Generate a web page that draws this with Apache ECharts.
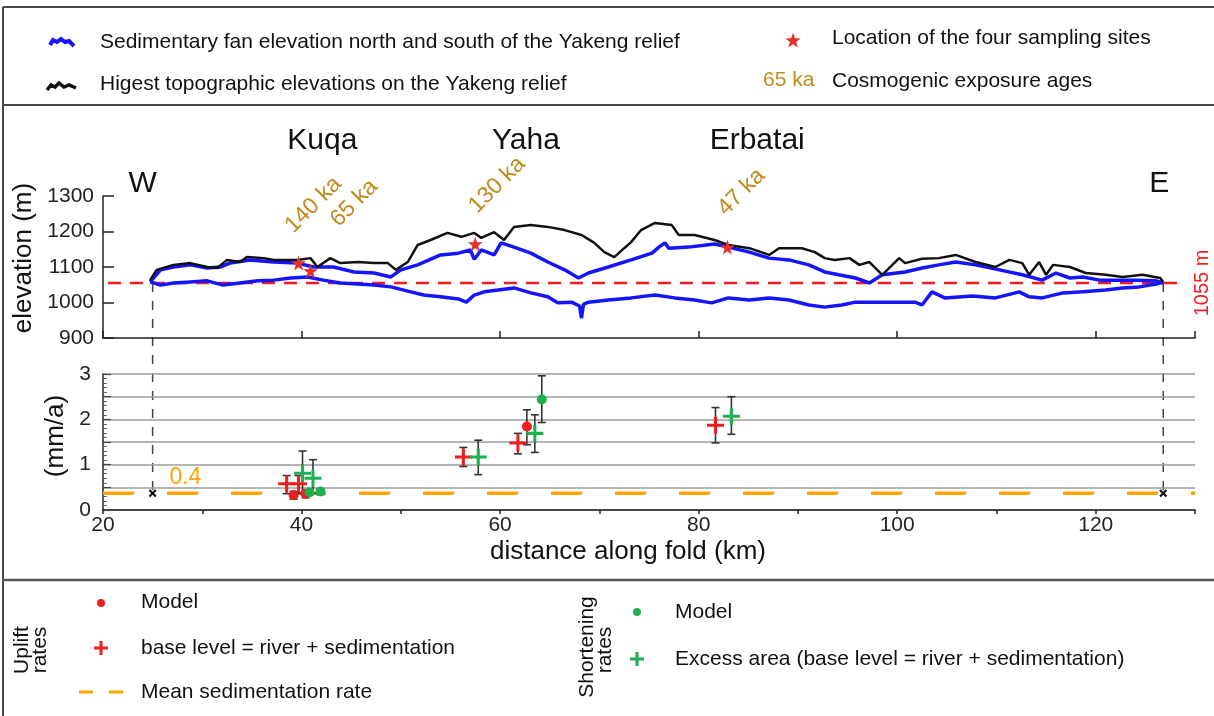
<!DOCTYPE html>
<html><head><meta charset="utf-8">
<script src="https://cdn.jsdelivr.net/npm/echarts@6/dist/echarts.min.js"></script>
<style>html,body{margin:0;padding:0;background:#fff}#c{width:1214px;height:716px}</style>
</head><body><div id="c"></div>
<script>
// ---------- DATA ----------
const topoHigh = [[24.75,1063],[25.4,1092],[27.1,1106],[28.8,1111],[30.5,1100],[31.5,1097],[32.5,1120],[33.8,1114],[34.5,1128],[36.2,1125],[37.2,1120],[39.6,1120],[40.9,1125],[41.6,1100],[42.9,1125],[43.9,1111],[45.7,1114],[47.3,1111],[48.7,1111],[49.5,1092],[50.7,1114],[51.7,1162],[53.0,1176],[54.7,1196],[56.1,1185],[57.4,1196],[58.1,1182],[59.4,1198],[60.4,1176],[61.4,1213],[63.1,1218],[64.8,1213],[66.5,1204],[68.2,1190],[69.5,1168],[70.5,1142],[71.5,1128],[72.5,1153],[73.2,1170],[74.2,1204],[75.6,1224],[77.3,1218],[78.0,1190],[79.6,1190],[81.6,1176],[83.0,1162],[85.1,1153],[87.1,1134],[88.1,1153],[90.4,1153],[91.7,1142],[92.7,1125],[93.7,1120],[95.2,1125],[96.2,1106],[97.2,1114],[98.5,1078],[100.2,1125],[100.8,1111],[102.5,1123],[104.2,1125],[105.9,1134],[107.9,1114],[109.9,1100],[111.3,1120],[112.6,1111],[113.3,1078],[114.3,1114],[115.0,1078],[115.7,1106],[117.4,1100],[119.0,1083],[121.0,1078],[122.7,1072],[124.7,1078],[126.5,1069],[126.8,1058]];
const fanNorth = [[24.75,1058],[25.8,1092],[27.1,1100],[28.8,1106],[30.5,1097],[31.8,1100],[32.8,1111],[34.8,1120],[37.2,1114],[39.6,1111],[41.2,1100],[43.2,1100],[45.3,1086],[47.3,1083],[49.0,1072],[50.0,1092],[51.7,1106],[54.0,1134],[55.8,1139],[57.0,1148],[57.4,1122],[58.1,1148],[59.4,1134],[60.1,1168],[61.4,1156],[63.1,1139],[64.8,1114],[66.5,1092],[67.9,1069],[68.9,1083],[70.9,1100],[73.2,1120],[75.3,1139],[76.0,1156],[76.6,1168],[77.0,1153],[79.0,1156],[81.6,1165],[83.0,1156],[85.1,1142],[87.1,1125],[89.1,1120],[91.1,1106],[92.7,1086],[94.1,1078],[95.8,1069],[97.2,1055],[98.5,1078],[100.8,1086],[102.5,1097],[104.2,1106],[105.9,1114],[107.9,1106],[110.3,1092],[112.6,1078],[114.6,1063],[116.0,1083],[117.4,1069],[118.7,1072],[120.4,1063],[122.0,1063],[124.0,1063],[126.1,1061],[126.8,1055]];
const fanSouth = [[24.75,1058],[25.8,1049],[27.1,1055],[28.8,1058],[30.5,1061],[32.1,1049],[33.8,1055],[35.6,1061],[37.2,1063],[38.9,1069],[40.6,1072],[42.2,1063],[43.9,1055],[45.7,1052],[47.3,1049],[49.0,1044],[50.7,1032],[52.3,1021],[54.0,1016],[55.8,1010],[56.6,1001],[57.4,1021],[58.4,1030],[59.8,1035],[61.4,1041],[63.1,1027],[64.8,1016],[65.8,999],[67.2,1001],[68.0,990],[68.2,956],[68.4,995],[68.9,1001],[70.9,1007],[73.2,1013],[75.6,1021],[77.6,1013],[79.6,1007],[81.3,999],[83.0,1013],[85.1,1007],[87.1,1013],[89.1,1007],[91.1,993],[92.7,987],[94.4,993],[95.8,1001],[99.2,1001],[101.8,1001],[102.5,993],[103.5,1030],[104.8,1013],[107.6,1018],[109.9,1013],[112.3,1030],[113.3,1016],[114.6,1013],[116.7,1027],[118.7,1030],[121.0,1035],[122.7,1041],[124.4,1044],[126.1,1052],[126.8,1058]];
const samplingSites = [[39.7,1111],[40.9,1089],[57.5,1165],[82.9,1156]];
const ageLabels = ['140 ka','65 ka','130 ka','47 ka'];
const agePositions = [[41.2,1275],[45.3,1280],[59.7,1331],[84.3,1311]];
const siteNames = ['Kuqa','Yaha','Erbatai'];
const sitePositions = [[42.1,1455],[62.6,1455],[85.9,1455]];
const baseLevel = 1055;
const baseLevelExtent = [20.5, 129];
const foldEnds = [25, 126.8];
const meanSedRate = 0.37;
const meanSedLabel = '0.4';
// uplift rates
const upliftModelX = [39.2, 40.4, 62.7];
const upliftModelY = [0.33, 0.36, 1.84];
const upliftModelLo = [0.24, 0.27, 1.44];
const upliftModelHi = [0.41, 0.42, 2.21];
const upliftBaseX = [38.5, 39.7, 56.3, 61.8, 81.7];
const upliftBaseY = [0.58, 0.58, 1.17, 1.48, 1.87];
const upliftBaseLo = [0.36, 0.36, 0.96, 1.24, 1.48];
const upliftBaseHi = [0.76, 0.76, 1.38, 1.69, 2.26];
// shortening rates
const shortModelX = [40.8, 41.9, 64.2];
const shortModelY = [0.39, 0.41, 2.44];
const shortModelLo = [0.33, 0.34, 1.93];
const shortModelHi = [0.44, 0.46, 2.96];
const shortExcessX = [40.1, 41.15, 57.8, 63.5, 83.3];
const shortExcessY = [0.81, 0.70, 1.17, 1.69, 2.07];
const shortExcessLo = [0.37, 0.37, 0.78, 1.27, 1.67];
const shortExcessHi = [1.30, 1.11, 1.54, 2.10, 2.50];

// ---------- STYLE ----------
const FONT = "'Liberation Sans', Arial, sans-serif";
const BLUE = '#1414FF', RED = '#F01E1E', GREEN = '#1FAF50', ORANGE = '#FFA500', GOLD = '#C08A1C';
const STAR = 'path://M50,0 L61,35 L98,35 L68,57 L79,91 L50,70 L21,91 L32,57 L2,35 L39,35 Z';
const PLUS = 'path://M8.2,0H11.8V8.2H20V11.8H11.8V20H8.2V11.8H0V8.2H8.2Z';
const XMARK = 'path://M0,2L2,0L10,8L8,10Z M8,0L10,2L2,10L0,8Z';

const zip = (xs, ys) => xs.map((x, i) => [x, ys[i]]);
const errs = (xs, lo, hi) => xs.map((x, i) => [x, lo[i], hi[i]]);

function errSeries(data) {
  return {
    type: 'custom', xAxisIndex: 1, yAxisIndex: 1, z: 2, data, silent: true,
    renderItem: (p, api) => {
      const a = api.coord([api.value(0), api.value(1)]);
      const b = api.coord([api.value(0), api.value(2)]);
      const w = 4, st = { stroke: '#333', lineWidth: 1.6 };
      return { type: 'group', children: [
        { type: 'line', shape: { x1: a[0], y1: a[1], x2: b[0], y2: b[1] }, style: st },
        { type: 'line', shape: { x1: a[0]-w, y1: a[1], x2: a[0]+w, y2: a[1] }, style: st },
        { type: 'line', shape: { x1: b[0]-w, y1: b[1], x2: b[0]+w, y2: b[1] }, style: st }
      ]};
    }
  };
}

const chart = echarts.init(document.getElementById('c'));
const axisLineStyle = { color: '#222', width: 1.5 };

const option = {
  animation: false,
  backgroundColor: '#fff',
  textStyle: { fontFamily: FONT },
  grid: [
    { left: 103, right: 19, top: 196, height: 142 },
    { left: 103, right: 19, top: 374, height: 136 }
  ],
  xAxis: [
    { gridIndex: 0, type: 'value', min: 20, max: 130, interval: 20,
      axisLine: { lineStyle: axisLineStyle }, axisTick: { inside: true, length: 7, lineStyle: { color: '#222', width: 1.5 } },
      axisLabel: { show: false }, splitLine: { show: false } },
    { gridIndex: 1, type: 'value', min: 20, max: 130, interval: 10,
      axisLine: { lineStyle: axisLineStyle }, axisTick: { length: 4, lineStyle: { color: '#222', width: 1.5 } },
      axisLabel: { fontSize: 21, color: '#222', margin: 5, fontFamily: FONT,
        formatter: v => (v % 20 === 0 && v <= 120) ? String(v) : '' },
      splitLine: { show: false },
      name: 'distance along fold (km)', nameLocation: 'middle', nameGap: 29,
      nameTextStyle: { fontSize: 26, color: '#111', fontFamily: FONT, padding: [0, 42, 0, 0] } }
  ],
  yAxis: [
    { gridIndex: 0, type: 'value', min: 900, max: 1300, interval: 100,
      axisLine: { show: true, lineStyle: axisLineStyle }, axisTick: { show: true, inside: true, length: 11, lineStyle: { color: '#222', width: 1.5 } },
      axisLabel: { fontSize: 21, color: '#222', margin: 9, fontFamily: FONT, formatter: v => String(v) }, splitLine: { show: false },
      name: 'elevation (m)', nameLocation: 'middle', nameGap: 64,
      nameTextStyle: { fontSize: 26, color: '#111', fontFamily: FONT, padding: [0, 0, 0, 18] } },
    { gridIndex: 1, type: 'value', min: 0, max: 3, interval: 0.5,
      axisLine: { show: true, lineStyle: axisLineStyle },
      axisTick: { show: true, inside: true, length: 8, lineStyle: { color: '#444', width: 1.2 } },
      minorTick: { show: true, splitNumber: 5, length: 4, lineStyle: { color: '#666', width: 1 } },
      axisLabel: { fontSize: 21, color: '#222', margin: 12, fontFamily: FONT,
        formatter: v => Number.isInteger(v) ? String(v) : '' },
      splitLine: { show: true, lineStyle: { color: '#9c9c9c', width: 1.5 } },
      name: '(mm/a)', nameLocation: 'middle', nameGap: 33,
      nameTextStyle: { fontSize: 26, color: '#111', fontFamily: FONT, padding: [0, 0, 0, 12] } }
  ],
  series: [
    { name: 'baseLevel', type: 'line', xAxisIndex: 0, yAxisIndex: 0, symbol: 'none', z: 1,
      data: baseLevelExtent.map(x => [x, baseLevel]),
      lineStyle: { color: RED, width: 2.5, type: [13, 9] } },
    { name: 'fanSouth', type: 'line', xAxisIndex: 0, yAxisIndex: 0, symbol: 'none', z: 2, data: fanSouth,
      lineStyle: { color: BLUE, width: 3.5 } },
    { name: 'fanNorth', type: 'line', xAxisIndex: 0, yAxisIndex: 0, symbol: 'none', z: 2, data: fanNorth,
      lineStyle: { color: BLUE, width: 3.5 } },
    { name: 'topo', type: 'line', xAxisIndex: 0, yAxisIndex: 0, symbol: 'none', z: 3, data: topoHigh,
      lineStyle: { color: '#111', width: 2.5 } },
    { name: 'sites', type: 'scatter', xAxisIndex: 0, yAxisIndex: 0, z: 5, data: samplingSites,
      symbol: STAR, symbolSize: 15, itemStyle: { color: '#E5302A', opacity: 1 } },
    { name: 'meanSed', type: 'line', xAxisIndex: 1, yAxisIndex: 1, symbol: 'none', z: 1,
      data: [[20, meanSedRate], [130, meanSedRate]],
      lineStyle: { color: ORANGE, width: 3.5, type: [31, 33] } },
    errSeries(errs(upliftModelX, upliftModelLo, upliftModelHi)),
    errSeries(errs(upliftBaseX, upliftBaseLo, upliftBaseHi)),
    errSeries(errs(shortModelX, shortModelLo, shortModelHi)),
    errSeries(errs(shortExcessX, shortExcessLo, shortExcessHi)),
    { name: 'upliftBase', type: 'scatter', xAxisIndex: 1, yAxisIndex: 1, z: 4, data: zip(upliftBaseX, upliftBaseY),
      symbol: PLUS, symbolSize: 17, itemStyle: { color: RED, opacity: 1 } },
    { name: 'shortExcess', type: 'scatter', xAxisIndex: 1, yAxisIndex: 1, z: 4, data: zip(shortExcessX, shortExcessY),
      symbol: PLUS, symbolSize: 17, itemStyle: { color: GREEN, opacity: 1 } },
    { name: 'upliftModel', type: 'scatter', xAxisIndex: 1, yAxisIndex: 1, z: 5, data: zip(upliftModelX, upliftModelY),
      symbol: 'circle', symbolSize: 10, itemStyle: { color: RED, opacity: 1 } },
    { name: 'shortModel', type: 'scatter', xAxisIndex: 1, yAxisIndex: 1, z: 5, data: zip(shortModelX, shortModelY),
      symbol: 'circle', symbolSize: 10, itemStyle: { color: GREEN, opacity: 1 } },
    { name: 'foldEnds', type: 'scatter', xAxisIndex: 1, yAxisIndex: 1, z: 6, data: foldEnds.map(x => [x, meanSedRate]),
      symbol: XMARK, symbolSize: 8, itemStyle: { color: '#111', opacity: 1 } }
  ]
};
chart.setOption(option);

// ---------- ANNOTATIONS (positioned through the axes) ----------
const g = [];
const px0 = v => chart.convertToPixel({ gridIndex: 0 }, v);
const px1 = v => chart.convertToPixel({ gridIndex: 1 }, v);

foldEnds.forEach(x => {
  const a = px0([x, baseLevel]), b = px1([x, meanSedRate]);
  g.push({ type: 'line', z: -1, silent: true, shape: { x1: a[0], y1: a[1], x2: b[0], y2: b[1] },
    style: { stroke: '#444', lineWidth: 1.5, lineDash: [9, 9] } });
});
ageLabels.forEach((t, i) => {
  const p = px0(agePositions[i]);
  g.push({ type: 'text', x: p[0], y: p[1], rotation: Math.PI / 4, silent: true,
    style: { text: t, fill: GOLD, font: '23px ' + FONT, align: 'center', verticalAlign: 'middle' } });
});
siteNames.forEach((t, i) => {
  const p = px0(sitePositions[i]);
  g.push({ type: 'text', x: p[0], y: p[1], silent: true,
    style: { text: t, fill: '#111', font: '30px ' + FONT, align: 'center', verticalAlign: 'middle' } });
});
[['W', [24.0, 1334]], ['E', [126.4, 1334]]].forEach(([t, v]) => {
  const p = px0(v);
  g.push({ type: 'text', x: p[0], y: p[1], silent: true,
    style: { text: t, fill: '#111', font: '30px ' + FONT, align: 'center', verticalAlign: 'middle' } });
});
{
  const p = px0([130.8, baseLevel]);
  g.push({ type: 'text', x: p[0], y: p[1], rotation: Math.PI / 2, silent: true,
    style: { text: baseLevel + ' m', fill: RED, font: '20px ' + FONT, align: 'center', verticalAlign: 'middle' } });
  const q = px1([28.3, 0.71]);
  g.push({ type: 'text', x: q[0], y: q[1], silent: true,
    style: { text: meanSedLabel, fill: ORANGE, font: '23px ' + FONT, align: 'center', verticalAlign: 'middle' } });
}

// frame
const frame = { stroke: '#4a4a4a', lineWidth: 2 };
g.push({ type: 'line', silent: true, shape: { x1: 3, y1: 7, x2: 1214, y2: 7 }, style: frame });
g.push({ type: 'line', silent: true, shape: { x1: 3, y1: 7, x2: 3, y2: 716 }, style: frame });
g.push({ type: 'line', silent: true, shape: { x1: 3, y1: 105, x2: 1214, y2: 105 }, style: frame });
g.push({ type: 'line', silent: true, shape: { x1: 3, y1: 580, x2: 1214, y2: 580 }, style: { stroke: '#555', lineWidth: 2.5 } });

// top legend
function starPts(cx, cy, R, r) {
  const pts = [];
  for (let i = 0; i < 10; i++) {
    const ang = -Math.PI / 2 + i * Math.PI / 5, rad = i % 2 ? r : R;
    pts.push([cx + rad * Math.cos(ang), cy + rad * Math.sin(ang)]);
  }
  return pts;
}
g.push({ type: 'polyline', silent: true, shape: { points: [[50,45],[53,40],[57,42],[61,39],[65,42],[69,41],[74,46]] },
  style: { stroke: BLUE, lineWidth: 4, fill: null } });
g.push({ type: 'polyline', silent: true, shape: { points: [[47,90],[51,85],[55,87],[59,83],[64,87],[69,85],[76,88]] },
  style: { stroke: '#111', lineWidth: 3.5, fill: null } });
const LEG = 21;
g.push({ type: 'text', x: 100, y: 42, silent: true, style: { text: 'Sedimentary fan elevation north and south of the Yakeng relief', fill: '#111', font: LEG + 'px ' + FONT, verticalAlign: 'middle' } });
g.push({ type: 'text', x: 100, y: 84, silent: true, style: { text: 'Higest topographic elevations on the Yakeng relief', fill: '#111', font: LEG + 'px ' + FONT, verticalAlign: 'middle' } });
g.push({ type: 'polygon', silent: true, shape: { points: starPts(793, 41, 8, 3.3) }, style: { fill: '#E5302A' } });
g.push({ type: 'text', x: 832, y: 38, silent: true, style: { text: 'Location of the four sampling sites', fill: '#111', font: LEG + 'px ' + FONT, verticalAlign: 'middle' } });
g.push({ type: 'text', x: 763, y: 80, silent: true, style: { text: '65 ka', fill: GOLD, font: LEG + 'px ' + FONT, verticalAlign: 'middle' } });
g.push({ type: 'text', x: 832, y: 81, silent: true, style: { text: 'Cosmogenic exposure ages', fill: '#111', font: LEG + 'px ' + FONT, verticalAlign: 'middle' } });

// bottom legend
const plus = (cx, cy, col) => [
  { type: 'line', silent: true, shape: { x1: cx - 7, y1: cy, x2: cx + 7, y2: cy }, style: { stroke: col, lineWidth: 3 } },
  { type: 'line', silent: true, shape: { x1: cx, y1: cy - 7, x2: cx, y2: cy + 7 }, style: { stroke: col, lineWidth: 3 } }
];
g.push({ type: 'text', x: 22, y: 650, rotation: Math.PI / 2, silent: true, style: { text: 'Uplift', fill: '#111', font: '21px ' + FONT, align: 'center', verticalAlign: 'middle' } });
g.push({ type: 'text', x: 40, y: 650, rotation: Math.PI / 2, silent: true, style: { text: 'rates', fill: '#111', font: '21px ' + FONT, align: 'center', verticalAlign: 'middle' } });
g.push({ type: 'circle', silent: true, shape: { cx: 101, cy: 603, r: 4 }, style: { fill: RED } });
g.push(...plus(101, 648, RED));
g.push({ type: 'line', silent: true, shape: { x1: 79, y1: 692, x2: 93, y2: 692 }, style: { stroke: ORANGE, lineWidth: 3 } });
g.push({ type: 'line', silent: true, shape: { x1: 109, y1: 692, x2: 123, y2: 692 }, style: { stroke: ORANGE, lineWidth: 3 } });
g.push({ type: 'text', x: 141, y: 602, silent: true, style: { text: 'Model', fill: '#111', font: LEG + 'px ' + FONT, verticalAlign: 'middle' } });
g.push({ type: 'text', x: 141, y: 648, silent: true, style: { text: 'base level = river + sedimentation', fill: '#111', font: LEG + 'px ' + FONT, verticalAlign: 'middle' } });
g.push({ type: 'text', x: 141, y: 692, silent: true, style: { text: 'Mean sedimentation rate', fill: '#111', font: LEG + 'px ' + FONT, verticalAlign: 'middle' } });
g.push({ type: 'text', x: 587, y: 647, rotation: Math.PI / 2, silent: true, style: { text: 'Shortening', fill: '#111', font: '21px ' + FONT, align: 'center', verticalAlign: 'middle' } });
g.push({ type: 'text', x: 605, y: 650, rotation: Math.PI / 2, silent: true, style: { text: 'rates', fill: '#111', font: '21px ' + FONT, align: 'center', verticalAlign: 'middle' } });
g.push({ type: 'circle', silent: true, shape: { cx: 637, cy: 612, r: 4 }, style: { fill: GREEN } });
g.push(...plus(637, 659, GREEN));
g.push({ type: 'text', x: 675, y: 612, silent: true, style: { text: 'Model', fill: '#111', font: LEG + 'px ' + FONT, verticalAlign: 'middle' } });
g.push({ type: 'text', x: 675, y: 659, silent: true, style: { text: 'Excess area (base level = river + sedimentation)', fill: '#111', font: LEG + 'px ' + FONT, verticalAlign: 'middle' } });

chart.setOption({ graphic: g });
</script></body></html>
